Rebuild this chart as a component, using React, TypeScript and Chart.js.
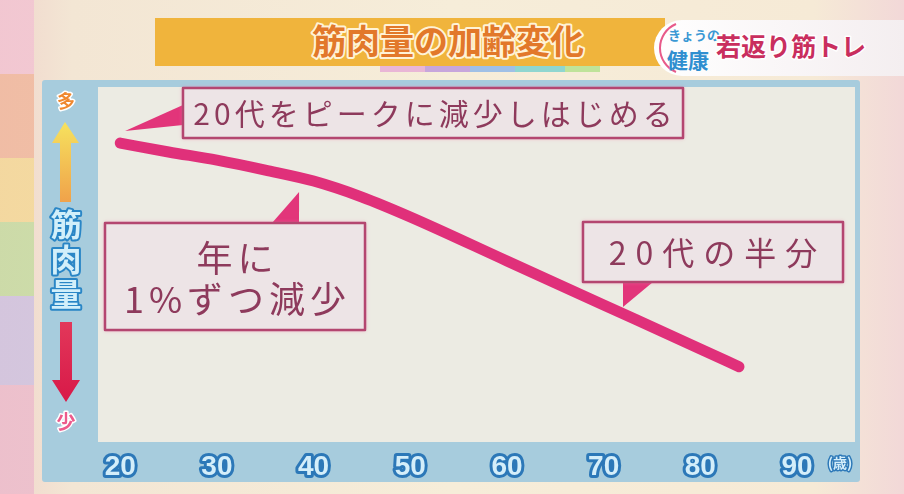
import React, { useEffect, useRef } from "react";
import { Chart, registerables } from "chart.js";

Chart.register(...registerables);

// muscle mass curve (age in years, relative amount)
const ages = [20, 25, 30, 35, 40, 45, 50, 60, 70, 80, 84];
const muscleMass = [84.2, 81.7, 79.4, 76.6, 73.5, 69.0, 63.4, 51.0, 38.6, 26.2, 21.2];
const ageTicks = [20, 30, 40, 50, 60, 70, 80, 90];

// callout texts and where their pointers touch the curve
const calloutTexts = [["20代をピークに減少しはじめる"], ["年に", "1%ずつ減少"], ["20代の半分"]];
const calloutTipAges = [20.5, 38.5, 72];
const calloutTipValues = [87.6, 70.4, 38.0];

// box layout relative to the chart area (px)
const calloutLayout = [
  { x: 85, y: 1, w: 500, h: 50, size: 30, gap: 4, lineY: [26], base: [[0, 17], [0, 37]] },
  { x: 7, y: 136, w: 260, h: 107, size: 36, gap: 5, lineY: [35, 76], base: [[167, 0], [194, 0]] },
  { x: 485, y: 135, w: 260, h: 60, size: 32, gap: 9, lineY: [31], base: [[40, 60], [70, 60]] },
];

const calloutPlugin = {
  id: "callouts",
  beforeDraw(chart: any) {
    const { ctx, chartArea: a } = chart;
    ctx.save();
    ctx.fillStyle = "#ecebe3";
    ctx.fillRect(a.left, a.top, a.right - a.left, a.bottom - a.top);
    ctx.restore();
    // rounder outlines for the stroked tick labels
    ctx.lineJoin = "round";
    ctx.miterLimit = 2;
  },
  beforeDatasetsDraw(chart: any) {
    const { ctx, chartArea: a, scales } = chart;
    calloutLayout.forEach((c, i) => {
      const bx = a.left + c.x;
      const by = a.top + c.y;
      const tx = scales.x.getPixelForValue(calloutTipAges[i]);
      const ty = scales.y.getPixelForValue(calloutTipValues[i]);
      ctx.save();
      // pointer
      ctx.fillStyle = "#e2357a";
      ctx.beginPath();
      ctx.moveTo(tx, ty);
      ctx.lineTo(bx + c.base[0][0], by + c.base[0][1]);
      ctx.lineTo(bx + c.base[1][0], by + c.base[1][1]);
      ctx.closePath();
      ctx.fill();
      // box
      ctx.shadowColor = "rgba(240,120,170,0.9)";
      ctx.shadowBlur = 4;
      ctx.fillStyle = "#ede4e6";
      ctx.fillRect(bx, by, c.w, c.h);
      ctx.shadowBlur = 0;
      ctx.lineWidth = 2.5;
      ctx.strokeStyle = "#b44670";
      ctx.strokeRect(bx, by, c.w, c.h);
      // text
      ctx.fillStyle = "#8e3a5c";
      ctx.font = `${c.size}px 'Noto Sans CJK JP', sans-serif`;
      ctx.letterSpacing = `${c.gap}px`;
      ctx.textAlign = "center";
      ctx.textBaseline = "middle";
      calloutTexts[i].forEach((t, j) => ctx.fillText(t, bx + c.w / 2 + c.gap / 2, by + c.lineY[j]));
      ctx.restore();
    });
  },
};

const MuscleChart: React.FC = () => {
  const chartRef = useRef<HTMLCanvasElement>(null);

  useEffect(() => {
    if (!chartRef.current) return;
    const chart = new Chart(chartRef.current, {
      type: "line",
      data: {
        datasets: [
          {
            data: ages.map((a, i) => ({ x: a, y: muscleMass[i] })),
            borderColor: "#e0307a",
            borderWidth: 11,
            borderCapStyle: "round",
            borderJoinStyle: "round",
            cubicInterpolationMode: "monotone",
            pointRadius: 0,
            fill: false,
          },
        ],
      },
      options: {
        responsive: false,
        animation: false,
        layout: { padding: { left: 56, right: 5, top: 7, bottom: 0 } },
        plugins: { legend: { display: false }, tooltip: { enabled: false } },
        scales: {
          x: {
            type: "linear",
            min: 17.7,
            max: 96,
            afterBuildTicks: (s: any) => {
              s.ticks = ageTicks.map((v) => ({ value: v }));
            },
            afterFit: (s: any) => {
              s.height = 40;
            },
            grid: { display: false },
            border: { display: false },
            ticks: {
              autoSkip: false,
              maxRotation: 0,
              padding: 0,
              color: "#d4eefa",
              textStrokeColor: "#2c78b8",
              textStrokeWidth: 6,
              font: { family: "'Liberation Sans', Arial, sans-serif", size: 28, weight: "bold" },
            },
          },
          y: { display: false, min: 0, max: 100 },
        },
      },
      plugins: [calloutPlugin],
    } as any);
    return () => chart.destroy();
  }, []);

  return <canvas ref={chartRef} width={818} height={402} style={{ position: "absolute", left: 0, top: 0 }} />;
};

const outlined = { paintOrder: "stroke", strokeLinejoin: "round" } as React.CSSProperties;

export default function App() {
  return (
    <div
      style={{
        position: "fixed",
        left: 0,
        top: 0,
        width: 904,
        height: 494,
        overflow: "hidden",
        background: "linear-gradient(90deg,#f0d6cc 0%,#f3e6d4 8%,#f6edd9 50%,#f6ead6 90%,#f2d8d8 100%)",
      }}
    >
      <svg width={904} height={494} style={{ position: "absolute", left: 0, top: 0 }}>
        <defs>
          <linearGradient id="strip" x1="0" y1="0" x2="0" y2="1">
            <stop offset="0" stopColor="#f2c4d2" />
            <stop offset="0.15" stopColor="#f2c4d2" />
            <stop offset="0.15" stopColor="#f0b89e" />
            <stop offset="0.32" stopColor="#f0b89e" />
            <stop offset="0.32" stopColor="#f4d898" />
            <stop offset="0.45" stopColor="#f4d898" />
            <stop offset="0.45" stopColor="#c6dba2" />
            <stop offset="0.6" stopColor="#c6dba2" />
            <stop offset="0.6" stopColor="#cfc2e0" />
            <stop offset="0.78" stopColor="#cfc2e0" />
            <stop offset="0.78" stopColor="#ecbccc" />
            <stop offset="1" stopColor="#ecbccc" />
          </linearGradient>
          <linearGradient id="pill" x1="0" y1="0" x2="1" y2="0">
            <stop offset="0" stopColor="#ffffff" />
            <stop offset="1" stopColor="#f4eef0" />
          </linearGradient>
        </defs>
        <rect x={0} y={0} width={34} height={494} fill="url(#strip)" opacity={0.85} />
        <rect x={155} y={18} width={510} height={48} fill="#f0b43c" />
        <rect x={380} y={66} width={45} height={6} fill="#e9b6d6" />
        <rect x={425} y={66} width={45} height={6} fill="#c7a6dc" />
        <rect x={470} y={66} width={45} height={6} fill="#9fc0e6" />
        <rect x={515} y={66} width={50} height={6} fill="#8fd6d0" />
        <rect x={565} y={66} width={35} height={6} fill="#bfe39a" />
        <text
          x={448}
          y={54}
          textAnchor="middle"
          fontFamily="'Noto Sans CJK JP', sans-serif"
          fontWeight="bold"
          fontSize={34}
          fill="#e2782a"
          stroke="#fff3d6"
          strokeWidth={4}
          style={outlined}
        >
          筋肉量の加齢変化
        </text>
        <path d="M682 20 H904 V76 H682 A28 28 0 0 1 682 20 Z" fill="url(#pill)" />
        <path d="M676 24 A26 26 0 0 0 676 72" fill="none" stroke="#e85a8a" strokeWidth={2} />
        <text x={668} y={40} fontFamily="'Noto Sans CJK JP', sans-serif" fontSize={13} fill="#3a98d4" fontWeight="bold">
          きょうの
        </text>
        <text x={667} y={68} fontFamily="'Noto Sans CJK JP', sans-serif" fontSize={21} fill="#2f8fd0" fontWeight="bold">
          健康
        </text>
        <text
          x={716}
          y={56}
          fontFamily="'Noto Sans CJK JP', sans-serif"
          fontWeight="bold"
          fontSize={25}
          fill="#c92e5e"
          stroke="#ffffff"
          strokeWidth={3}
          style={outlined}
        >
          若返り筋トレ
        </text>
      </svg>

      <div
        style={{
          position: "absolute",
          left: 42,
          top: 80,
          width: 818,
          height: 402,
          background: "#a7ccdd",
          borderRadius: 3,
        }}
      >
        <MuscleChart />
      </div>

      <svg width={904} height={494} style={{ position: "absolute", left: 0, top: 0, pointerEvents: "none" }}>
        <defs>
          <linearGradient id="up" x1="0" y1="0" x2="0" y2="1">
            <stop offset="0" stopColor="#f6e25e" />
            <stop offset="1" stopColor="#f0a24a" />
          </linearGradient>
          <linearGradient id="down" x1="0" y1="0" x2="0" y2="1">
            <stop offset="0" stopColor="#e2385a" />
            <stop offset="1" stopColor="#d81848" />
          </linearGradient>
        </defs>
        <text
          x={66}
          y={108}
          textAnchor="middle"
          fontFamily="'Noto Sans CJK JP', sans-serif"
          fontWeight="bold"
          fontSize={18}
          fill="#f0882e"
          stroke="#ffffff"
          strokeWidth={3}
          style={outlined}
        >
          多
        </text>
        <polygon points="65,122 52,143 60,143 60,202 71,202 71,143 79,143" fill="url(#up)" />
        {["筋", "肉", "量"].map((ch, i) => (
          <text
            key={ch}
            x={66}
            y={236 + i * 35}
            textAnchor="middle"
            fontFamily="'Noto Sans CJK JP', sans-serif"
            fontWeight="bold"
            fontSize={31}
            fill="#d2effa"
            stroke="#2a86c6"
            strokeWidth={4}
            style={outlined}
          >
            {ch}
          </text>
        ))}
        <polygon points="60,322 72,322 72,380 80,380 66,402 52,380 60,380" fill="url(#down)" />
        <text
          x={66}
          y={429}
          textAnchor="middle"
          fontFamily="'Noto Sans CJK JP', sans-serif"
          fontWeight="bold"
          fontSize={19}
          fill="#ec5a8c"
          stroke="#ffffff"
          strokeWidth={3}
          style={outlined}
        >
          少
        </text>
        <text
          x={840}
          y={468}
          textAnchor="middle"
          fontFamily="'Noto Sans CJK JP', sans-serif"
          fontWeight="bold"
          fontSize={14}
          fill="#d4eefa"
          stroke="#2c78b8"
          strokeWidth={3}
          style={outlined}
        >
          (歳)
        </text>
      </svg>
    </div>
  );
}
